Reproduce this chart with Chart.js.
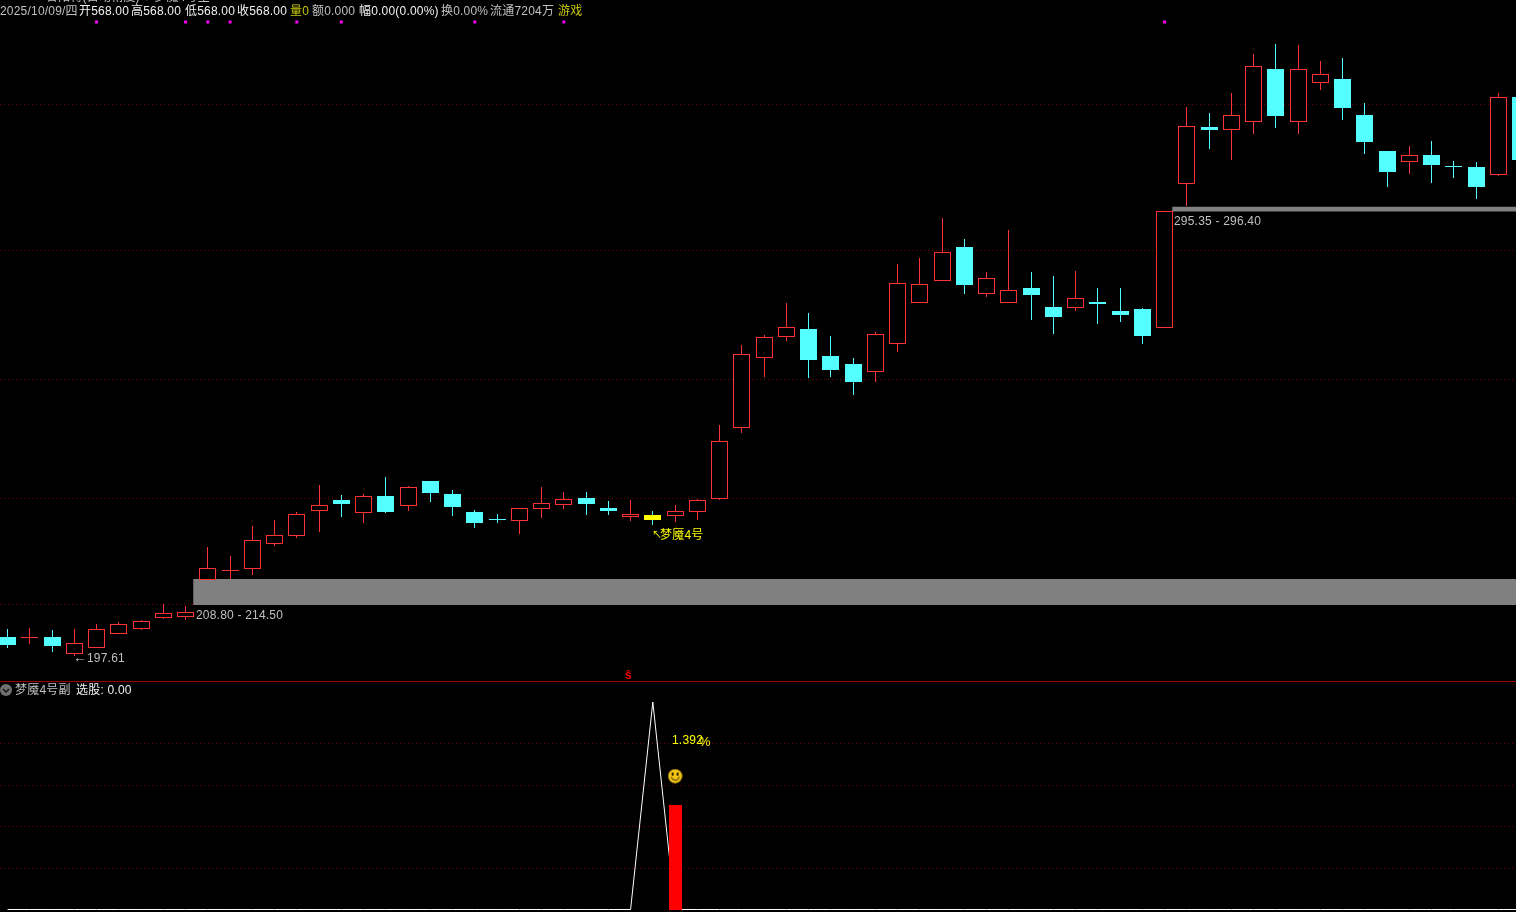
<!DOCTYPE html>
<html>
<head>
<meta charset="utf-8">
<title>梦魇4号</title>
<script src="https://cdn.jsdelivr.net/npm/chart.js@4"></script>
<style>
html, body { margin: 0; padding: 0; background: #000; width: 1516px; height: 912px; overflow: hidden; }
canvas { position: absolute; left: 0; display: block; }
#mainChart { top: 0; }
#subChart { top: 681px; }
#sep { position: absolute; left: 0; top: 681px; width: 1516px; height: 1px; background: #a00000; }
.t { position: absolute; white-space: pre; font: 12px/14px "Liberation Sans", "Noto Sans CJK SC", sans-serif; letter-spacing: 0.2px; color: #c0c0c0; }
.w { color: #f0f0f0; }
.y { color: #c8c800; }
.yy { color: #ffff00; }
</style>
</head>
<body>
<canvas id="mainChart" width="1516" height="681"></canvas>
<canvas id="subChart" width="1516" height="231"></canvas>
<div id="sep"></div>

<div class="t" style="left:46px;top:-10px">合阳待(自动精度) ● 梦魇4号主</div>
<div class="t" style="left:0;top:4px">2025/10/09/四</div>
<div class="t w" style="left:79px;top:4px">开568.00</div>
<div class="t w" style="left:131px;top:4px">高568.00</div>
<div class="t w" style="left:185px;top:4px">低568.00</div>
<div class="t w" style="left:237px;top:4px">收568.00</div>
<div class="t y" style="left:290px;top:4px">量0</div>
<div class="t" style="left:312px;top:4px">额0.000</div>
<div class="t w" style="left:359px;top:4px">幅0.00(0.00%)</div>
<div class="t" style="left:441px;top:4px">换0.00%</div>
<div class="t" style="left:490px;top:4px">流通7204万</div>
<div class="t y" style="left:558px;top:4px">游戏</div>

<div class="t" style="left:196px;top:608px">208.80 - 214.50</div>
<div class="t" style="left:1174px;top:214px">295.35 - 296.40</div>
<div class="t" style="left:73px;top:650px;font-size:14px">←</div>
<div class="t" style="left:87px;top:651px">197.61</div>
<div class="t yy" style="left:652px;top:528px;font-size:10px">↖</div>
<div class="t yy" style="left:660px;top:528px">梦魇4号</div>
<div class="t" style="left:625px;top:668px;color:#f00000;font-weight:bold;height:13px;overflow:hidden">ŝ</div>

<svg style="position:absolute;left:0;top:684px" width="12" height="12"><circle cx="6" cy="6" r="6" fill="#707070"/><path d="M3 5 L6 8 L9 5" stroke="#101010" stroke-width="1.4" fill="none"/></svg>
<div class="t" style="left:15px;top:683px">梦魇4号副</div>
<div class="t w" style="left:76px;top:683px">选股: 0.00</div>
<div class="t yy" style="left:672px;top:733px">1.392</div>
<div class="t yy" style="left:699px;top:735px;font-size:13px">%</div>

<script>
// candles
const opens = [201.76, 201.54, 201.76, 198.02, 199.34, 202.42, 203.52, 205.94, 206.16, 214.30,
    216.28, 216.72, 222.22, 223.98, 229.48, 231.90, 229.04, 232.78, 230.58, 236.08,
    233.22, 229.26, 227.72, 227.28, 229.92, 230.80, 232.34, 230.14, 228.16, 228.60,
    228.38, 229.26, 232.12, 247.74, 263.14, 267.76, 269.52, 263.58, 261.82, 260.06,
    266.22, 275.24, 280.08, 287.56, 277.22, 275.24, 278.54, 274.36, 274.14, 275.46,
    273.48, 273.92, 269.74, 301.42, 313.96, 313.30, 315.06, 326.72, 315.06, 323.64,
    324.52, 316.60, 308.68, 306.26, 307.80, 305.38, 305.16, 303.40, 320.56];
const highs = [203.52, 203.74, 203.30, 203.52, 204.62, 205.06, 205.50, 209.02, 208.58, 221.56,
    219.58, 226.18, 227.50, 229.26, 235.20, 233.00, 233.22, 236.96, 234.98, 236.08,
    234.10, 229.70, 228.82, 230.14, 234.76, 233.66, 233.66, 231.68, 231.90, 229.48,
    230.80, 232.12, 248.40, 266.00, 268.20, 275.24, 273.04, 267.98, 263.14, 268.86,
    283.82, 285.14, 293.94, 289.32, 282.06, 291.30, 282.06, 281.18, 282.28, 278.54,
    278.54, 274.14, 295.48, 318.36, 317.04, 321.44, 330.02, 332.22, 332.00, 328.48,
    329.14, 319.24, 308.68, 309.78, 310.88, 306.48, 306.26, 321.44, 320.56];
const lows = [199.34, 200.22, 198.46, 197.61, 199.34, 202.42, 203.30, 205.72, 205.50, 214.30,
    214.52, 215.40, 221.78, 223.54, 224.86, 228.16, 226.84, 229.04, 229.48, 231.46,
    228.38, 225.74, 226.84, 224.42, 227.94, 229.92, 228.60, 228.60, 227.28, 226.40,
    227.06, 227.50, 231.90, 246.64, 258.96, 266.88, 258.74, 258.96, 255.00, 257.86,
    264.46, 275.24, 280.08, 277.22, 276.56, 275.24, 271.50, 268.42, 273.48, 270.62,
    271.06, 266.22, 269.74, 296.58, 309.12, 306.70, 312.42, 313.74, 312.42, 322.10,
    315.50, 308.02, 300.76, 303.62, 301.64, 302.74, 298.12, 303.18, 306.70];
const closes = [200.00, 201.76, 199.78, 200.44, 203.52, 204.62, 205.28, 207.04, 207.26, 216.94,
    216.50, 223.10, 224.20, 228.82, 230.80, 231.02, 232.78, 229.26, 234.76, 233.44,
    230.36, 226.84, 227.50, 230.14, 231.24, 232.12, 231.02, 229.48, 228.82, 227.50,
    229.48, 231.90, 244.88, 264.02, 267.76, 269.96, 262.70, 260.50, 257.86, 268.42,
    279.64, 279.42, 286.46, 279.20, 280.74, 278.10, 277.00, 272.16, 276.34, 275.02,
    272.60, 267.98, 295.48, 314.18, 313.30, 316.60, 327.38, 316.38, 326.72, 325.62,
    318.14, 310.66, 304.06, 307.80, 305.60, 305.16, 300.76, 320.56, 306.70];

const yellowCandles = [29];
const signalDays = [4, 8, 9, 10, 13, 15, 21, 25, 52];
const signalLevel = 337.06;

const bandStarts = [8.34, 52.34];
const bandLows = [208.80, 295.35];
const bandHighs = [214.50, 296.40];

const priceGrid = [209.0, 232.3, 258.3, 286.9, 318.8];
const subGrid = [0.2, 0.4, 0.6, 0.8];

// 副图
const subLine = [0, 0, 0, 0, 0, 0, 0, 0, 0, 0, 0, 0, 0, 0, 0, 0, 0, 0, 0, 0,
    0, 0, 0, 0, 0, 0, 0, 0, 0, 1, 0, 0, 0, 0, 0, 0, 0, 0, 0, 0,
    0, 0, 0, 0, 0, 0, 0, 0, 0, 0, 0, 0, 0, 0, 0, 0, 0, 0, 0, 0,
    0, 0, 0, 0, 0, 0, 0, 0, 0];
const subBarDay = 30;
const subBarValue = 0.504;
const smileDay = 30;
const smileLevel = 0.643;

const RED = '#ff3232';
const CYAN = '#54ffff';
const YELLOW = '#ffff00';
const GRID = '#700000';

const xRange = { type: 'linear', display: false, offset: false, min: -0.34, max: 67.795 };

// keep the bars on whole pixels, the original is not antialiased
const snapBars = {
    id: 'snapBars',
    afterDatasetsUpdate(chart) {
        chart.getSortedVisibleDatasetMetas().forEach(function (meta) {
            if (meta.type !== 'bar') return;
            meta.data.forEach(function (el) {
                el.x = Math.floor(el.x) + 0.5;
                el.y = Math.round(el.y);
                el.base = Math.round(el.base);
                if (el.y === el.base) el.base += 1;
            });
        });
    }
};

function isUp(i) { return closes[i] >= opens[i]; }

function bodyColor(i) {
    if (yellowCandles.includes(i)) return YELLOW;
    return isUp(i) ? '#000' : CYAN;
}

function edgeColor(i) {
    if (yellowCandles.includes(i)) return YELLOW;
    return isUp(i) ? RED : CYAN;
}

function gridTicks(values) {
    return function (scale) {
        scale.ticks = values.map(function (v) { return { value: v }; });
    };
}

const days = opens.map(function (_, i) { return i; });

const bandSets = [];
bandStarts.forEach(function (start, b) {
    bandSets.push({
        type: 'line', order: 6, data: [{ x: start, y: bandHighs[b] }, { x: 69, y: bandHighs[b] }],
        borderWidth: 0, pointRadius: 0, fill: false, backgroundColor: '#808080'
    });
    bandSets.push({
        type: 'line', order: 5, data: [{ x: start, y: bandLows[b] }, { x: 69, y: bandLows[b] }],
        borderWidth: 0, pointRadius: 0, fill: '-1', backgroundColor: '#808080'
    });
});

new Chart(document.getElementById('mainChart'), {
    type: 'bar',
    plugins: [snapBars],
    data: {
        datasets: bandSets.concat([
            {
                label: 'wick', order: 3, grouped: false, barThickness: 1,
                data: days.map(function (i) { return { x: i, y: [lows[i], highs[i]] }; }),
                backgroundColor: days.map(function (i) { return isUp(i) ? RED : CYAN; }),
                borderWidth: 0, inflateAmount: 0
            },
            {
                label: 'body', order: 2, grouped: false, barThickness: 17,
                data: days.map(function (i) { return { x: i, y: [opens[i], closes[i]] }; }),
                backgroundColor: days.map(bodyColor),
                borderColor: days.map(edgeColor),
                borderWidth: 1, borderSkipped: false, inflateAmount: 0
            },
            {
                type: 'scatter', label: 'signal', order: 1,
                data: signalDays.map(function (d) { return { x: d, y: signalLevel }; }),
                pointStyle: 'rect', pointRadius: 2.1, borderWidth: 0, backgroundColor: '#ff00ff'
            }
        ])
    },
    options: {
        responsive: false,
        animation: false,
        events: [],
        layout: { padding: 0, autoPadding: false },
        plugins: { legend: { display: false }, tooltip: { enabled: false } },
        scales: {
            x: xRange,
            y: {
                min: 192.08, max: 341.9,
                afterBuildTicks: gridTicks(priceGrid),
                ticks: { display: false },
                border: { display: false, dash: [1, 3] },
                grid: { color: GRID, drawTicks: false, lineWidth: 1 }
            }
        }
    }
});

// smiley marker
const smile = document.createElement('canvas');
smile.width = 15;
smile.height = 15;
const sc = smile.getContext('2d');
sc.fillStyle = '#f5c518';
sc.beginPath(); sc.arc(7.5, 7.5, 7, 0, Math.PI * 2); sc.fill();
sc.fillStyle = '#302000';
sc.fillRect(4, 4, 2, 3);
sc.fillRect(9, 4, 2, 3);
sc.strokeStyle = '#302000';
sc.lineWidth = 1;
sc.beginPath(); sc.arc(7.5, 7.5, 4, 0.2, Math.PI - 0.2); sc.stroke();

new Chart(document.getElementById('subChart'), {
    type: 'bar',
    plugins: [snapBars],
    data: {
        datasets: [
            {
                type: 'line', label: 'line', order: 3,
                data: days.map(function (i) { return { x: i, y: subLine[i] }; }),
                borderColor: '#ffffff', borderWidth: 1, pointRadius: 0, tension: 0, fill: false
            },
            {
                label: 'bar', order: 2, barThickness: 13, grouped: false,
                data: [{ x: subBarDay, y: subBarValue }],
                backgroundColor: '#ff0000', borderWidth: 0, inflateAmount: 0
            },
            {
                type: 'scatter', label: 'smile', order: 1,
                data: [{ x: smileDay, y: smileLevel }],
                pointStyle: smile
            }
        ]
    },
    options: {
        responsive: false,
        animation: false,
        events: [],
        layout: { padding: 0, autoPadding: false },
        plugins: { legend: { display: false }, tooltip: { enabled: false } },
        scales: {
            x: xRange,
            y: {
                min: -0.012, max: 1.1012,
                afterBuildTicks: gridTicks(subGrid),
                ticks: { display: false },
                border: { display: false, dash: [1, 3] },
                grid: { color: GRID, drawTicks: false, lineWidth: 1 }
            }
        }
    }
});
</script>
</body>
</html>
